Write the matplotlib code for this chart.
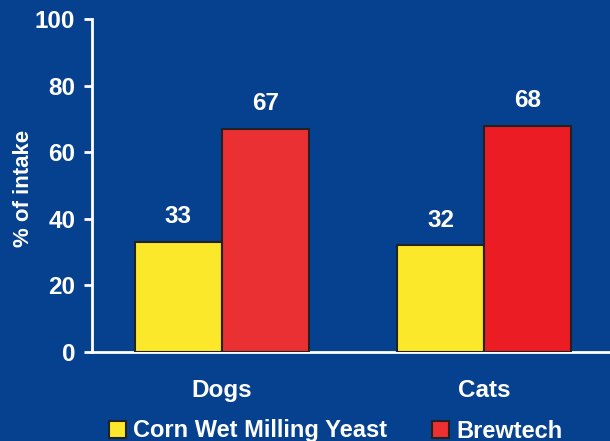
import matplotlib
matplotlib.use("Agg")
import matplotlib.pyplot as plt
from matplotlib.patches import Patch
import numpy as np

categories = ["Dogs", "Cats"]
series_names = ["Corn Wet Milling Yeast", "Brewtech"]
yeast = [33, 32]
brewtech = [67, 68]
yticks = [0, 20, 40, 60, 80, 100]

bg = "#06418F"
yellow = "#FCE82B"
reds = ["#EB3034", "#EC1C24"]

plt.rcParams['font.family'] = ['Liberation Sans', 'DejaVu Sans']
plt.rcParams['font.weight'] = 'bold'

fig = plt.figure(figsize=(6.1, 4.41), dpi=100, facecolor=bg)
ax = fig.add_axes([92/610, (441-352)/441, 1 - 92/610, (352-19)/441])
ax.set_facecolor(bg)

x = np.arange(len(categories))
w = 0.332
b1 = ax.bar(x - w/2, yeast, w, color=yellow, edgecolor="#222222", linewidth=1.5, zorder=3)
b2 = ax.bar(x + w/2, brewtech, w, color=reds, edgecolor="#222222", linewidth=1.5, zorder=3)

for rects, vals in ((b1, yeast), (b2, brewtech)):
    for r, v in zip(rects, vals):
        ax.text(r.get_x() + r.get_width()/2, v + 7.6, str(v), ha="center", va="center",
                color="white", fontsize=17.5, fontweight="bold")

ax.set_xlim(-0.496, 1.481)
ax.set_ylim(0, 100)
ax.set_yticks(yticks)
ax.set_yticklabels([str(t) for t in yticks])
ax.set_xticks(x)
ax.set_xticklabels(categories)
ax.tick_params(axis="y", colors="white", labelsize=17.5, length=6, width=2, pad=6)
ax.tick_params(axis="x", colors="white", labelsize=17.5, length=0, pad=19.5)
for lab in ax.get_xticklabels() + ax.get_yticklabels():
    lab.set_fontweight("bold")
    lab.set_color("white")

for s in ("top", "right"):
    ax.spines[s].set_visible(False)
for s in ("left", "bottom"):
    ax.spines[s].set_color("white")
    ax.spines[s].set_linewidth(2)

ax.set_ylabel("% of intake", color="white", fontsize=16, fontweight="bold")
ax.yaxis.label.set_verticalalignment("center")
ax.yaxis.set_label_coords(-0.133, 0.49)

handles = [Patch(facecolor=yellow, edgecolor="#222222", linewidth=1.5),
           Patch(facecolor="#EE3030", edgecolor="#222222", linewidth=1.5)]
leg = fig.legend(handles, series_names, loc="center", bbox_to_anchor=(0.55, 1 - 431/441),
                 ncol=2, frameon=False, fontsize=17, handlelength=0.72, handleheight=0.72,
                 handletextpad=0.3, columnspacing=1.9, borderpad=0, borderaxespad=0)
for t in leg.get_texts():
    t.set_color("white")
    t.set_fontweight("bold")

fig.savefig("out.png", dpi=100, facecolor=bg)
